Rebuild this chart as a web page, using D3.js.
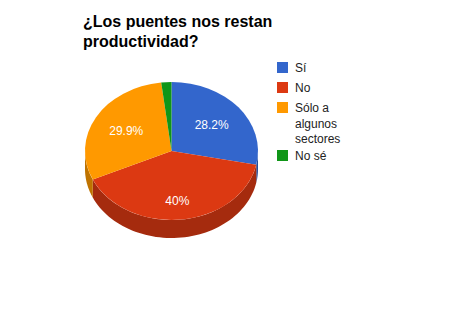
<!DOCTYPE html>
<html>
<head>
<meta charset="utf-8">
<script src="https://cdn.jsdelivr.net/npm/d3@7"></script>
<style>
html,body{margin:0;padding:0;background:#fff;}
svg{display:block;}
</style>
</head>
<body>
<svg id="chart" width="450" height="320"></svg>
<script>
const titleLines = ["¿Los puentes nos restan", "productividad?"];
const categories = ["Sí", "No", "Sólo a algunos sectores", "No sé"];
const legendLines = [["Sí"], ["No"], ["Sólo a", "algunos", "sectores"], ["No sé"]];
const values = [28.2, 40, 29.9, 1.9];
const labels = ["28.2%", "40%", "29.9%", ""];
const colors = ["#3366cc", "#dc3912", "#ff9900", "#109618"];

const W = 450, H = 320;
const cx = 171.5, cy = 151, rx = 86.5, ry = 69, depth = 18;
const font = "Arial, 'Liberation Sans', sans-serif";

const svg = d3.select("#chart");
svg.append("rect").attr("width", W).attr("height", H).attr("fill", "#fff");

// title
svg.append("g").selectAll("text").data(titleLines).join("text")
  .attr("x", 83).attr("y", (d, i) => 27 + i * 20)
  .attr("font-family", font).attr("font-size", 16).attr("font-weight", "bold")
  .attr("fill", "#000").text(d => d);

const pie = d3.pie().sort(null).value(d => d)
  .startAngle(0).endAngle(2 * Math.PI);
const arcs = pie(values);

const px = a => cx + rx * Math.sin(a);
const py = (a, dz = 0) => cy - ry * Math.cos(a) + dz;

// side walls (front half: angles between PI/2 and 3PI/2)
const sideG = svg.append("g");
arcs.forEach((a, i) => {
  const s = Math.max(a.startAngle, Math.PI / 2);
  const e = Math.min(a.endAngle, 3 * Math.PI / 2);
  if (e <= s) return;
  const n = 60;
  const pts = d3.range(n + 1).map(k => s + (e - s) * k / n);
  let d = "M" + px(s) + "," + py(s);
  pts.forEach(t => { d += "L" + px(t) + "," + py(t); });
  d += "L" + px(e) + "," + py(e, depth);
  pts.slice().reverse().forEach(t => { d += "L" + px(t) + "," + py(t, depth); });
  d += "Z";
  const c = d3.color(colors[i]);
  const dc = d3.rgb(c.r * 0.75, c.g * 0.75, c.b * 0.75);
  sideG.append("path").attr("d", d).attr("fill", dc.formatHex());
});

// top faces
svg.append("g").selectAll("path").data(arcs).join("path")
  .attr("d", a => {
    const large = (a.endAngle - a.startAngle) > Math.PI ? 1 : 0;
    return `M${cx},${cy}L${px(a.startAngle)},${py(a.startAngle)}` +
      `A${rx},${ry} 0 ${large} 1 ${px(a.endAngle)},${py(a.endAngle)}Z`;
  })
  .attr("fill", (a, i) => colors[i]);

// slice labels
svg.append("g").selectAll("text").data(arcs).join("text")
  .attr("x", a => { const m = (a.startAngle + a.endAngle) / 2; return cx + rx * 0.6 * Math.sin(m); })
  .attr("y", a => {
    const m = (a.startAngle + a.endAngle) / 2;
    const cm = -Math.cos(m);
    return cy + ry * 0.6 * cm + Math.max(0, cm) * depth * 0.5 + 4;
  })
  .attr("text-anchor", "middle")
  .attr("font-family", font).attr("font-size", 12).attr("fill", "#fff")
  .text((a, i) => labels[i]);

// legend
const legend = svg.append("g");
const rowTops = [62, 82, 102, 150];
legendLines.forEach((lines, i) => {
  legend.append("rect").attr("x", 277).attr("y", rowTops[i])
    .attr("width", 11).attr("height", 11).attr("fill", colors[i]);
  lines.forEach((t, j) => {
    legend.append("text").attr("x", 295).attr("y", rowTops[i] + 10 + j * 15.5)
      .attr("font-family", font).attr("font-size", 12).attr("fill", "#222")
      .text(t);
  });
});
</script>
</body>
</html>
